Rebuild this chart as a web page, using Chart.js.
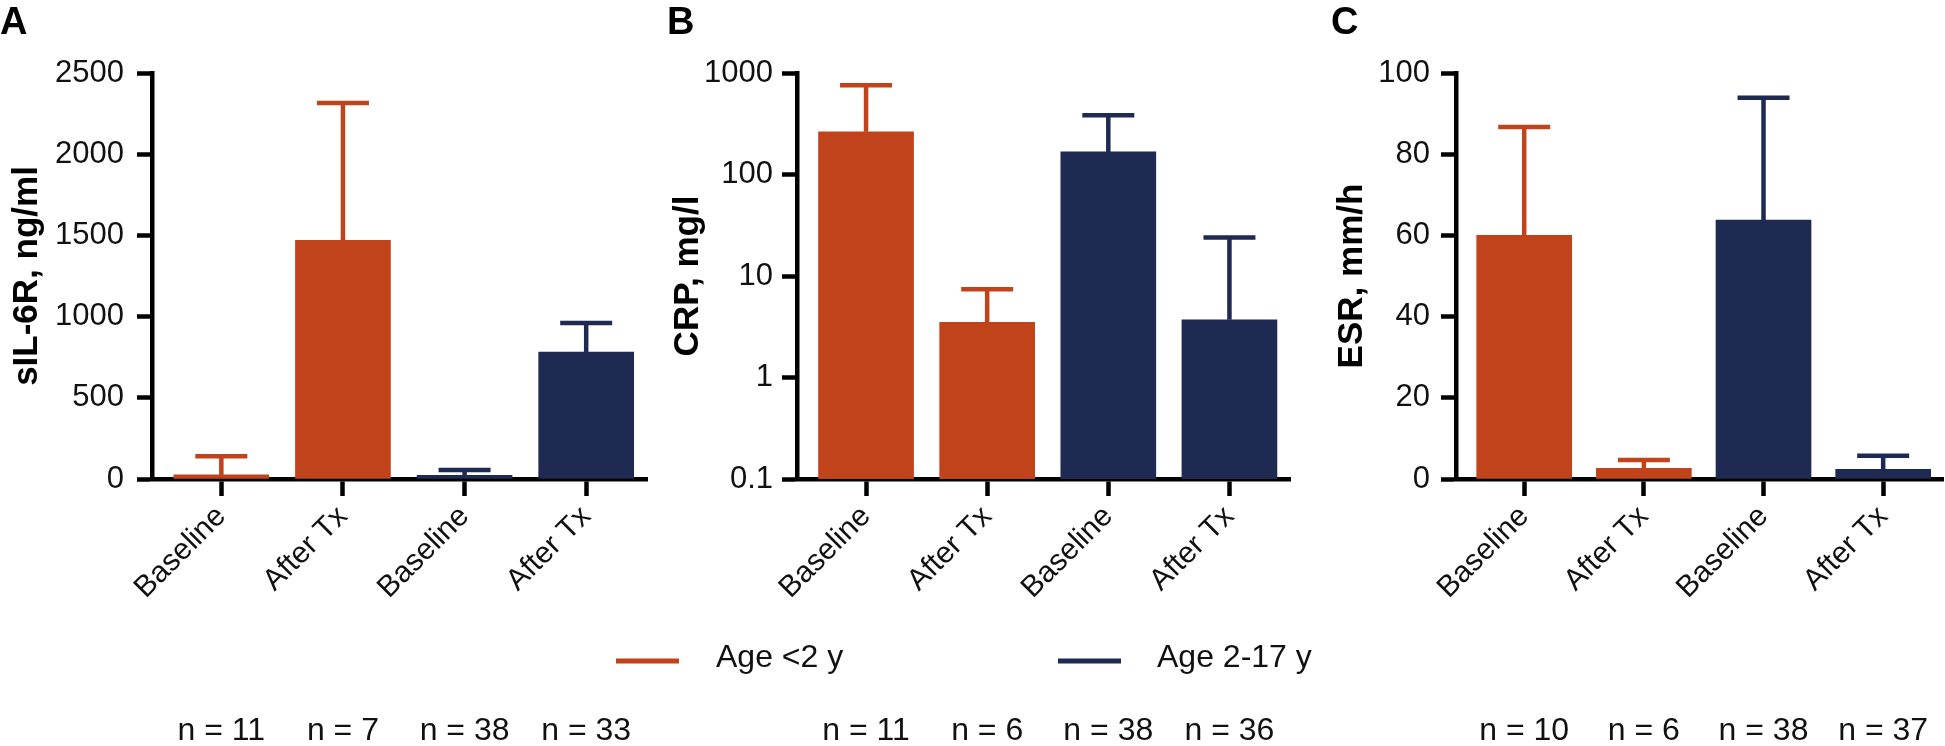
<!DOCTYPE html>
<html>
<head>
<meta charset="utf-8">
<script src="https://cdn.jsdelivr.net/npm/chart.js@4.4.1/dist/chart.umd.min.js"></script>
<style>
  html, body { margin: 0; padding: 0; background: #fff; }
  body { width: 1945px; height: 746px; position: relative; overflow: hidden; }
  canvas { position: absolute; top: 0; }
  #chartA { left: 0; }
  #chartB { left: 600px; }
  #chartC { left: 1300px; }
</style>
</head>
<body>
<canvas id="chartA" width="660" height="746"></canvas>
<canvas id="chartB" width="730" height="746"></canvas>
<canvas id="chartC" width="645" height="746"></canvas>
<script>
const categories = ["Baseline", "After Tx", "Baseline", "After Tx"];
const groupOf = [0, 0, 1, 1];
const groups = ["Age <2 y", "Age 2-17 y"];
const groupColors = ["#c1431b", "#1f2a52"];

const sil6rMean = [25, 1470, 22, 782];
const sil6rUpper = [140, 2315, 55, 960];
const sil6rTicks = [0, 500, 1000, 1500, 2000, 2500];
const sil6rN = ["n = 11", "n = 7", "n = 38", "n = 33"];

const crpMean = [263, 3.5, 167, 3.7];
const crpUpper = [757, 7.4, 384, 24];
const crpTicks = [0.1, 1, 10, 100, 1000];
const crpN = ["n = 11", "n = 6", "n = 38", "n = 36"];

const esrMean = [60, 2.6, 63.8, 2.4];
const esrUpper = [86.7, 4.7, 93.9, 5.7];
const esrTicks = [0, 20, 40, 60, 80, 100];
const esrN = ["n = 10", "n = 6", "n = 38", "n = 37"];

Chart.defaults.font.family = "'Liberation Sans', Arial, Helvetica, sans-serif";
Chart.defaults.color = "#111";

const noPadding = () => ({ left: 0, top: 0, right: 0, bottom: 0 });

// whisker (mean + SD) drawn from the bar top up to the upper value
const errorBars = {
  id: "errorBars",
  afterDatasetsDraw(chart) {
    const ctx = chart.ctx;
    const yScale = chart.scales.y;
    ctx.save();
    chart.data.datasets.forEach((ds, di) => {
      const meta = chart.getDatasetMeta(di);
      meta.data.forEach((bar, i) => {
        const top = yScale.getPixelForValue(ds.upper[i]);
        ctx.strokeStyle = ds.backgroundColor;
        ctx.lineWidth = 4.5;
        ctx.beginPath();
        ctx.moveTo(bar.x, bar.y);
        ctx.lineTo(bar.x, top);
        ctx.moveTo(bar.x - 26, top);
        ctx.lineTo(bar.x + 26, top);
        ctx.stroke();
      });
    });
    ctx.restore();
  }
};

// shared legend, only drawn on panel B
const groupLegend = {
  id: "groupLegend",
  afterDraw(chart, args, opts) {
    if (!opts.show) return;
    const ctx = chart.ctx;
    ctx.save();
    ctx.font = "32px 'Liberation Sans', Arial, sans-serif";
    ctx.textBaseline = "middle";
    chart.data.datasets.forEach((ds, g) => {
      ctx.strokeStyle = ds.backgroundColor;
      ctx.lineWidth = 5;
      ctx.beginPath();
      ctx.moveTo(opts.lineX[g], opts.y);
      ctx.lineTo(opts.lineX[g] + 63, opts.y);
      ctx.stroke();
      ctx.fillStyle = "#111";
      ctx.fillText(ds.label, opts.textX[g], opts.y - 3);
    });
    ctx.restore();
  }
};

function buildDatasets(means, uppers) {
  return groups.map((name, g) => {
    const idx = categories.map((c, i) => i).filter(i => groupOf[i] === g);
    return {
      label: name,
      data: idx.map(i => ({ x: i, y: means[i] })),
      upper: idx.map(i => uppers[i]),
      backgroundColor: groupColors[g],
      borderWidth: 0,
      barThickness: 95,
      grouped: false
    };
  });
}

function makeChart(id, cfg) {
  const yScale = {
    type: cfg.log ? "logarithmic" : "linear",
    min: cfg.ticks[0],
    max: cfg.ticks[cfg.ticks.length - 1],
    afterBuildTicks: s => { s.ticks = cfg.ticks.map(v => ({ value: v })); },
    afterFit: s => { s.width = cfg.yWidth; },
    ticks: { padding: cfg.tickPad, font: { size: 31 }, color: "#111", callback: v => String(v) },
    grid: { drawOnChartArea: false, tickLength: 15, tickWidth: 4.5, tickColor: "#000" },
    border: { color: "#000", width: 4.5 },
    title: {
      display: true, text: cfg.yTitle, color: "#000",
      font: { size: 35, weight: "bold" },
      padding: { top: cfg.titlePad, bottom: 0 }
    }
  };

  return new Chart(document.getElementById(id), {
    type: "bar",
    data: { datasets: buildDatasets(cfg.mean, cfg.upper) },
    options: {
      responsive: false,
      animation: false,
      layout: { autoPadding: false, padding: { left: cfg.padLeft, right: cfg.padRight, top: 0, bottom: 0 } },
      scales: {
        x: {
          type: "linear", position: "bottom", offset: false,
          min: -0.57, max: 3.5,
          afterBuildTicks: s => { s.ticks = categories.map((c, i) => ({ value: i })); },
          afterFit: s => {
            s.height = 221; s.paddingLeft = 0; s.paddingRight = 0;
            s.getPadding = noPadding;
          },
          ticks: {
            stepSize: 1, autoSkip: false, minRotation: 45, maxRotation: 45, padding: 3,
            font: { size: 30 }, color: "#111",
            callback: v => categories[v]
          },
          grid: { offset: false, drawOnChartArea: false, tickLength: 17, tickWidth: 4.5, tickColor: "#000" },
          border: { color: "#000", width: 4.5 }
        },
        xn: {
          type: "linear", position: "bottom", axis: "x", weight: 5, offset: false,
          min: -0.57, max: 3.5,
          afterBuildTicks: s => { s.ticks = cfg.n.map((t, i) => ({ value: i })); },
          afterFit: s => {
            s.height = 46; s.paddingLeft = 0; s.paddingRight = 0;
            s.getPadding = noPadding;
          },
          ticks: {
            stepSize: 1, autoSkip: false, minRotation: 0, maxRotation: 0, padding: 12,
            font: { size: 32 }, color: "#111",
            callback: v => cfg.n[v]
          },
          grid: { offset: false, display: false, drawTicks: false },
          border: { display: false }
        },
        y: yScale
      },
      plugins: {
        legend: { display: false },
        tooltip: { enabled: false },
        title: {
          display: true, text: cfg.letter, align: "start", color: "#000",
          font: { size: 38, weight: "bold" },
          padding: { top: 1, bottom: 26.4 }
        },
        groupLegend: cfg.legend || { show: false }
      }
    },
    plugins: [errorBars, groupLegend]
  });
}

makeChart("chartA", {
  letter: "A", yTitle: "sIL-6R, ng/ml",
  mean: sil6rMean, upper: sil6rUpper, ticks: sil6rTicks, n: sil6rN,
  padLeft: 0, padRight: 13, yWidth: 152, tickPad: 13, titlePad: 6
});

makeChart("chartB", {
  letter: "B", yTitle: "CRP, mg/l", log: true,
  mean: crpMean, upper: crpUpper, ticks: crpTicks, n: crpN,
  padLeft: 67, padRight: 40, yWidth: 130, tickPad: 9, titlePad: 0,
  legend: { show: true, y: 661, lineX: [16, 458], textX: [116, 557] }
});

makeChart("chartC", {
  letter: "C", yTitle: "ESR, mm/h",
  mean: esrMean, upper: esrUpper, ticks: esrTicks, n: esrN,
  padLeft: 31, padRight: 2, yWidth: 125, tickPad: 11, titlePad: 0
});
</script>
</body>
</html>
